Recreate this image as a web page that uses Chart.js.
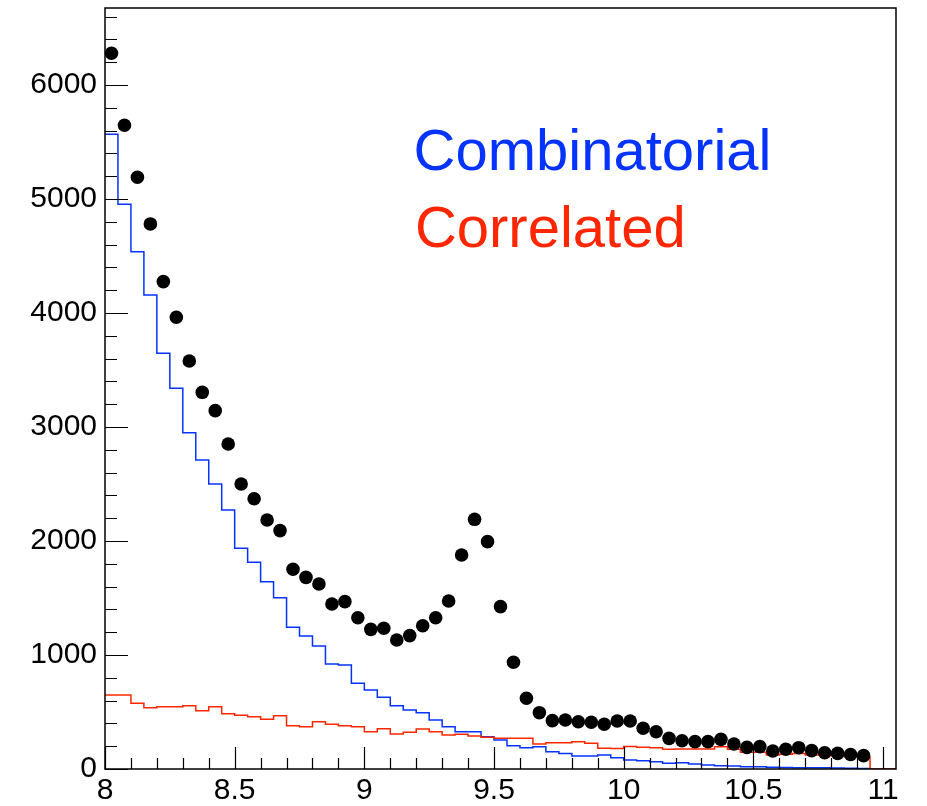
<!DOCTYPE html>
<html>
<head>
<meta charset="utf-8">
<script src="https://cdn.jsdelivr.net/npm/chart.js@4.4.0/dist/chart.umd.min.js"></script>
<style>
  body { margin: 0; background: #fff; }
</style>
</head>
<body>
<canvas id="massChart" width="927" height="806"></canvas>
<script>
// bin edges (0.05 wide), last two bins are empty
var binEdges = [8.00, 8.05, 8.10, 8.15, 8.20, 8.25, 8.30, 8.35, 8.40, 8.45,
    8.50, 8.55, 8.60, 8.65, 8.70, 8.75, 8.80, 8.85, 8.90, 8.95,
    9.00, 9.05, 9.10, 9.15, 9.20, 9.25, 9.30, 9.35, 9.40, 9.45,
    9.50, 9.55, 9.60, 9.65, 9.70, 9.75, 9.80, 9.85, 9.90, 9.95,
    10.00, 10.05, 10.10, 10.15, 10.20, 10.25, 10.30, 10.35, 10.40, 10.45,
    10.50, 10.55, 10.60, 10.65, 10.70, 10.75, 10.80, 10.85, 10.90, 10.95,
    11.00, 11.05];

// data points (black)
var dataCounts = [6278, 5646, 5190, 4781, 4275, 3962, 3579, 3304, 3143, 2851,
    2500, 2371, 2184, 2091, 1752, 1681, 1623, 1447, 1468, 1327,
    1225, 1234, 1132, 1170, 1257, 1327, 1474, 1877, 2190, 1994,
    1424, 936, 620, 494, 424, 430, 415, 410, 392, 421,
    421, 357, 327, 269, 248, 240, 240, 260, 219, 190,
    196, 158, 173, 187, 161, 143, 137, 127, 117];

var combinatorial = [5567, 4953, 4538, 4158, 3646, 3339, 2950, 2711, 2500, 2272,
    1936, 1813, 1643, 1503, 1243, 1167, 1079, 921, 912, 752,
    693, 629, 555, 518, 494, 430, 371, 327, 327, 283,
    254, 205, 187, 196, 152, 137, 114, 114, 123, 99,
    79, 73, 64, 50, 55, 44, 35, 29, 26, 20,
    20, 15, 14, 12, 12, 10, 8, 6, 5, 0, 0];

var correlated = [649, 649, 576, 538, 546, 546, 555, 511, 546, 485,
    471, 459, 436, 468, 380, 371, 415, 392, 380, 371,
    327, 352, 307, 322, 351, 327, 298, 304, 289, 278,
    269, 269, 269, 219, 231, 231, 240, 225, 181, 180,
    198, 190, 187, 173, 175, 175, 175, 196, 173, 146,
    146, 123, 129, 137, 123, 123, 114, 108, 102, 0, 0];

var yTicks = [0, 1000, 2000, 3000, 4000, 5000, 6000];
var xTicks = [8, 8.5, 9, 9.5, 10, 10.5, 11];
var labelTexts = ['Combinatorial', 'Correlated'];

var BLUE = '#0433ff';
var RED = '#ff2600';
var FONT = "'Liberation Sans', Arial, Helvetica, sans-serif";

function histPoints(vals) {
    var pts = [];
    for (let i = 0; i < vals.length; i++) {
        pts.push({x: binEdges[i], y: vals[i]});
    }
    pts.push({x: binEdges[vals.length], y: vals[vals.length - 1]});
    return pts;
}

var points = [];
for (let i = 0; i < dataCounts.length; i++) {
    points.push({x: (binEdges[i] + binEdges[i + 1]) / 2, y: dataCounts[i]});
}

function noPad(s) {
    s.paddingTop = 0;
    s.paddingBottom = 0;
    s.paddingLeft = 0;
    s.paddingRight = 0;
}

// ROOT-like frame: box plus ticks drawn inside the plot
var frameTicks = {
    id: 'frameTicks',
    afterDraw: function (chart) {
        const ctx = chart.ctx;
        const a = chart.chartArea;
        const xs = chart.scales.x, ys = chart.scales.y;
        ctx.save();
        ctx.strokeStyle = '#000';
        ctx.lineWidth = 1.5;
        ctx.strokeRect(a.left, a.top, a.right - a.left, a.bottom - a.top);
        ctx.lineWidth = 1.2;
        ctx.beginPath();
        for (let v = 0; v <= ys.max; v += 200) {
            let y = Math.round(ys.getPixelForValue(v)) + 0.5;
            let len = (v % 1000 === 0) ? 23 : 12;
            ctx.moveTo(a.left, y);
            ctx.lineTo(a.left + len, y);
        }
        for (let k = 0; k <= 30; k++) {
            let v = 8 + k * 0.1;
            let x = Math.round(xs.getPixelForValue(v)) + 0.5;
            let len = (k % 5 === 0) ? 22 : 11;
            ctx.moveTo(x, a.bottom);
            ctx.lineTo(x, a.bottom - len);
        }
        ctx.stroke();

        // text labels
        ctx.font = '58px ' + FONT;
        ctx.textBaseline = 'alphabetic';
        ctx.textAlign = 'left';
        ctx.fillStyle = BLUE;
        ctx.fillText(labelTexts[0], xs.getPixelForValue(9.19), ys.getPixelForValue(5254));
        ctx.fillStyle = RED;
        ctx.fillText(labelTexts[1], xs.getPixelForValue(9.195), ys.getPixelForValue(4579));
        ctx.restore();
    }
};

var massChart = new Chart(document.getElementById('massChart'), {
    type: 'scatter',
    data: {
        datasets: [{
            label: 'data',
            data: points,
            showLine: false,
            pointRadius: 6.8,
            pointBackgroundColor: '#000',
            pointBorderWidth: 0,
            clip: false
        }, {
            type: 'line',
            label: 'Correlated',
            data: histPoints(correlated),
            stepped: true,
            borderColor: RED,
            borderWidth: 1.5,
            pointRadius: 0,
            fill: false
        }, {
            type: 'line',
            label: 'Combinatorial',
            data: histPoints(combinatorial),
            stepped: true,
            borderColor: BLUE,
            borderWidth: 1.5,
            pointRadius: 0,
            fill: false
        }]
    },
    options: {
        responsive: false,
        animation: false,
        layout: {padding: {top: 8, right: 31, left: 0, bottom: 0}},
        plugins: {legend: {display: false}, tooltip: {enabled: false}},
        scales: {
            x: {
                type: 'linear',
                min: 8,
                max: 11.05,
                grid: {display: false, drawTicks: false},
                border: {display: false},
                afterFit: function (s) { s.height = 37; noPad(s); },
                afterBuildTicks: function (s) { s.ticks = xTicks.map(v => ({value: v})); },
                ticks: {
                    padding: 4,
                    color: '#000',
                    font: {family: FONT, size: 30},
                    maxRotation: 0,
                    autoSkip: false,
                    callback: function (v) { return String(v); }
                }
            },
            y: {
                min: 0,
                max: 6675,
                grid: {display: false, drawTicks: false},
                border: {display: false},
                afterFit: function (s) { s.width = 105; noPad(s); },
                afterBuildTicks: function (s) { s.ticks = yTicks.map(v => ({value: v})); },
                ticks: {
                    padding: 8,
                    color: '#000',
                    font: {family: FONT, size: 30},
                    autoSkip: false,
                    callback: function (v) { return String(v); }
                }
            }
        }
    },
    plugins: [frameTicks]
});
</script>
</body>
</html>
